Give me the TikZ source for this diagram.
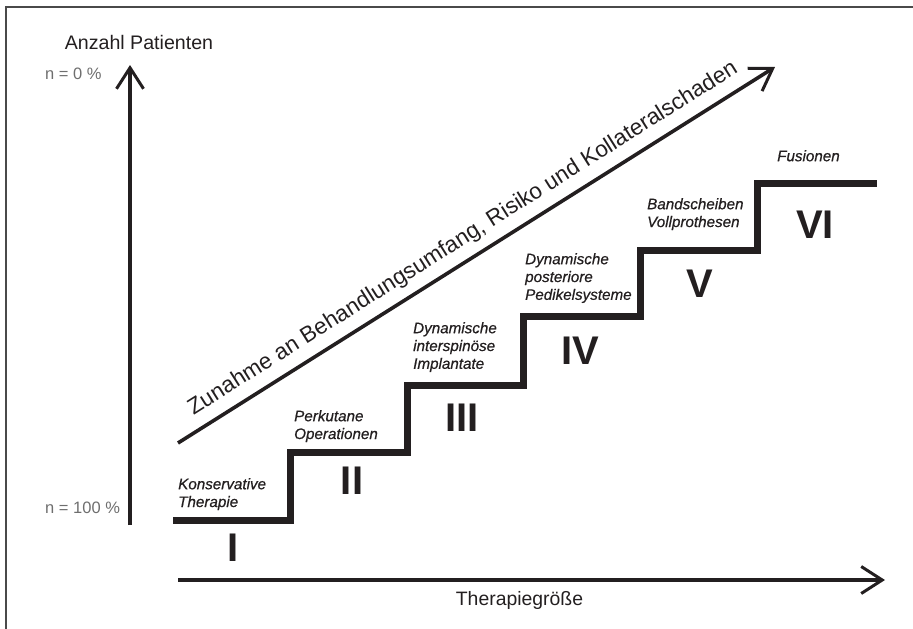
\documentclass[tikz,border=0pt]{standalone}
\usepackage{fontspec}
\setmainfont{Liberation Sans}
\newfontfamily\lblfont{Liberation Sans}[ItalicFeatures={FakeBold=0.6}]
\usetikzlibrary{arrows.meta}
\definecolor{ink}{HTML}{231F20}
\definecolor{graytxt}{HTML}{6E6E6E}
\definecolor{framec}{HTML}{4A4A4A}
\begin{document}
\begin{tikzpicture}[x=1pt,y=-1pt,
  axisline/.style={draw=ink, line width=3.6pt, -{Straight Barb[length=21pt,width=27pt,line width=3pt]}},
  stair/.style={draw=ink, line width=7pt, line cap=butt, line join=miter},
  lbl/.style={font=\lblfont\fontsize{15.2}{17.8}\selectfont\itshape, text=ink, align=left, anchor=north west, inner sep=0pt},
  roman/.style={font=\fontsize{40}{40}\selectfont\bfseries, text=ink, inner sep=0pt},
  axistext/.style={text=ink, inner sep=0pt, anchor=base},
  pct/.style={font=\fontsize{16.5}{16.5}\selectfont, text=graytxt, inner sep=0pt, anchor=base west}]
\useasboundingbox (0,0) rectangle (913,629);
% frame (cut off at right and bottom)
\coordinate (fbl) at (5.5,629);
\coordinate (ftl) at (5.5,6.5);
\coordinate (ftr) at (913,6.5);
\draw[framec, line width=2pt] (fbl) -- (ftl) -- (ftr);
% axes
\coordinate (yaxB) at (130,525);
\coordinate (yaxT) at (130,65);
\coordinate (xaxL) at (178,580);
\coordinate (xaxR) at (885,580);
\draw[axisline] (yaxB) -- (yaxT);
\draw[axisline] (xaxL) -- (xaxR);
% diagonal arrow
\coordinate (dgA) at (178,443);
\coordinate (dgB) at (775,67);
\draw[axisline] (dgA) -- (dgB);
\node[axistext, font=\fontsize{22.6}{22.6}\selectfont, rotate=32.2] (dgtext) at (466.2,243.7)
  {Zunahme an Behandlungsumfang, Risiko und Kollateralschaden};
% axis texts
\node[axistext, font=\fontsize{19.6}{19.6}\selectfont] (ytitle) at (139,49.5) {Anzahl Patienten};
\node[axistext, font=\fontsize{19.4}{19.4}\selectfont] (xtitle) at (519.5,605) {Therapiegröße};
\node[pct] (p0) at (45,79.3) {n = 0 \%};
\node[pct] (p100) at (45,513) {n = 100 \%};
% staircase
\coordinate (s0) at (173,520);
\coordinate (s1) at (290,520);
\coordinate (s2) at (290,452);
\coordinate (s3) at (407,452);
\coordinate (s4) at (407,385);
\coordinate (s5) at (523.5,385);
\coordinate (s6) at (523.5,316.5);
\coordinate (s7) at (640,316.5);
\coordinate (s8) at (640,250);
\coordinate (s9) at (757,250);
\coordinate (s10) at (757,183);
\coordinate (s11) at (877,183);
\draw[stair] (s0) -- (s1) -- (s2) -- (s3) -- (s4) -- (s5) -- (s6) -- (s7) -- (s8) -- (s9) -- (s10) -- (s11);
% roman numerals
\node[roman] (r1) at (233,548) {I};
\node[roman] (r2) at (352,481) {II};
\node[roman] (r3) at (462,417.5) {III};
\node[roman] (r4) at (580,351) {IV};
\node[roman] (r5) at (700,284) {V};
\node[roman] (r6) at (815,224.5) {VI};
% step labels
\node[lbl] (l1) at (178,478) {Konservative\\Therapie};
\node[lbl] (l2) at (294,410) {Perkutane\\Operationen};
\node[lbl] (l3) at (413,322) {Dynamische\\interspinöse\\Implantate};
\node[lbl] (l4) at (525,253) {Dynamische\\posteriore\\Pedikelsysteme};
\node[lbl] (l5) at (647,198) {Bandscheiben\\Vollprothesen};
\node[lbl] (l6) at (777,150) {Fusionen};
\end{tikzpicture}
\end{document}
